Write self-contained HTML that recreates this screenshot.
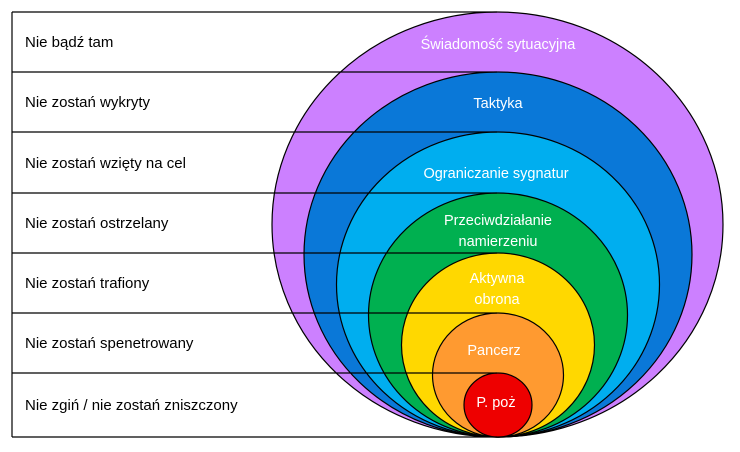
<!DOCTYPE html>
<html><head><meta charset="utf-8"><style>
html,body{margin:0;padding:0;background:#fff;width:740px;height:452px;overflow:hidden}
svg{display:block}
text{font-family:"Liberation Sans",sans-serif}
</style></head><body>
<svg width="740" height="452" viewBox="0 0 740 452" xmlns="http://www.w3.org/2000/svg">
<g stroke="#000" stroke-width="1.2">
<ellipse cx="497.5" cy="224.5" rx="225.5" ry="212.5" fill="#cc80ff"/>
<ellipse cx="498" cy="254.5" rx="194" ry="182.5" fill="#0a78d8"/>
<ellipse cx="498" cy="284.5" rx="161.5" ry="152.5" fill="#00aeef"/>
<ellipse cx="498" cy="315" rx="129.5" ry="122" fill="#00b050"/>
<ellipse cx="498" cy="345" rx="96.5" ry="92" fill="#ffd800"/>
<ellipse cx="498" cy="375" rx="65.5" ry="62" fill="#ff9a30"/>
<ellipse cx="498" cy="405" rx="34" ry="32" fill="#ee0000"/>
</g>
<g stroke="#000" stroke-width="1.2">
<line x1="12" y1="12" x2="12" y2="437"/>
<line x1="12" y1="12" x2="497" y2="12"/>
<line x1="12" y1="72" x2="497" y2="72"/>
<line x1="12" y1="132" x2="497" y2="132"/>
<line x1="12" y1="193" x2="497" y2="193"/>
<line x1="12" y1="253" x2="497" y2="253"/>
<line x1="12" y1="313" x2="497" y2="313"/>
<line x1="12" y1="373" x2="497" y2="373"/>
<line x1="12" y1="437" x2="497" y2="437"/>
</g>
<g font-size="15" fill="#000">
<text x="25" y="47">Nie bądź tam</text>
<text x="25" y="107">Nie zostań wykryty</text>
<text x="25" y="168">Nie zostań wzięty na cel</text>
<text x="25" y="228">Nie zostań ostrzelany</text>
<text x="25" y="288">Nie zostań trafiony</text>
<text x="25" y="348">Nie zostań spenetrowany</text>
<text x="25" y="410">Nie zgiń / nie zostań zniszczony</text>
</g>
<g font-size="14.5" fill="#fff" text-anchor="middle">
<text x="498" y="49">Świadomość sytuacyjna</text>
<text x="498" y="108">Taktyka</text>
<text x="496" y="178">Ograniczanie sygnatur</text>
<text x="498" y="225">Przeciwdziałanie</text>
<text x="498" y="246">namierzeniu</text>
<text x="497" y="283">Aktywna</text>
<text x="497" y="304">obrona</text>
<text x="494" y="355">Pancerz</text>
<text x="496" y="407">P. poż</text>
</g>
</svg>
</body></html>
